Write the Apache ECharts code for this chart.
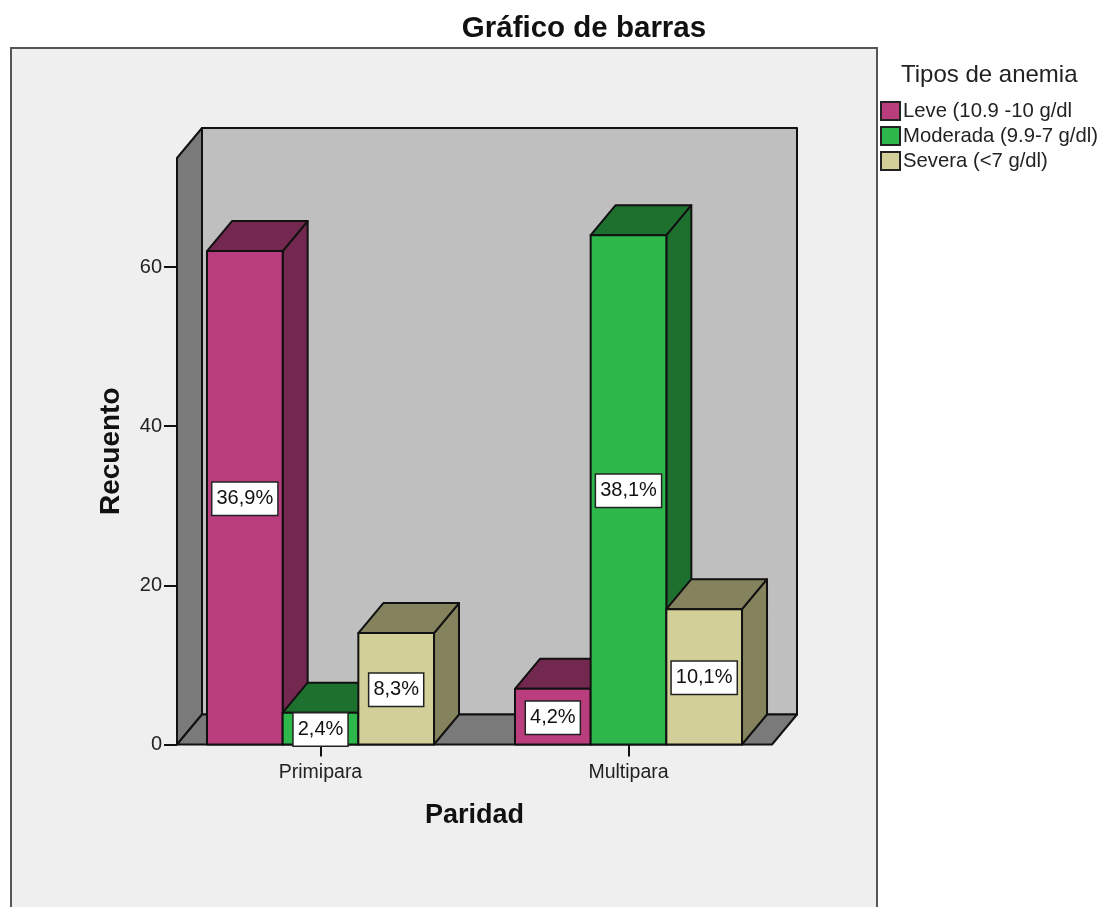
<!DOCTYPE html>
<html>
<head>
<meta charset="utf-8">
<title>Gráfico de barras</title>
<script src="https://cdn.jsdelivr.net/npm/echarts@6/dist/echarts.min.js"></script>
<style>
  html, body { margin: 0; padding: 0; background: #fff; }
  #myChart { width: 1104px; height: 907px; }
</style>
</head>
<body>
<div id="myChart"></div>
<script>
const categories = ['Primipara', 'Multipara'];
const leveValues = [62, 7];
const moderadaValues = [4, 64];
const severaValues = [14, 17];
const levePct = ['36,9%', '4,2%'];
const moderadaPct = ['2,4%', '38,1%'];
const severaPct = ['8,3%', '10,1%'];
const yTicks = [0, 20, 40, 60];
const yMax = 73.7;

const FONT = '"Liberation Sans", Arial, sans-serif';
const DEPTH_X = 25;
const DEPTH_Y = 30;
const BAR_SHARE = 0.2457; // parte de cada categoria que ocupa una barra
const WALL_INSET = 10.5;

function poly(points, fill) {
  return {
    type: 'polygon',
    shape: { points: points },
    style: { fill: fill, stroke: '#111', lineWidth: 2, lineJoin: 'round' },
  };
}

// fondo 3D: pared trasera, pared izquierda y suelo
function renderWalls(params, api) {
  const x0 = params.coordSys.x + WALL_INSET;
  const x1 = params.coordSys.x + params.coordSys.width - WALL_INSET;
  const y0 = api.coord([0, 0])[1];
  const yT = api.coord([0, yMax])[1];
  return {
    type: 'group',
    children: [
      poly([[x0 + DEPTH_X, yT - DEPTH_Y], [x1 + DEPTH_X, yT - DEPTH_Y], [x1 + DEPTH_X, y0 - DEPTH_Y], [x0 + DEPTH_X, y0 - DEPTH_Y]], '#BFBFBF'),
      poly([[x0, yT], [x0 + DEPTH_X, yT - DEPTH_Y], [x0 + DEPTH_X, y0 - DEPTH_Y], [x0, y0]], '#7A7A7A'),
      poly([[x0, y0], [x0 + DEPTH_X, y0 - DEPTH_Y], [x1 + DEPTH_X, y0 - DEPTH_Y], [x1, y0]], '#7A7A7A'),
    ],
  };
}

function makeBarRender(offset, colors, pct) {
  return function (params, api) {
    const cat = api.value(0);
    const top = api.coord([cat, api.value(1)]);
    const base = api.coord([cat, 0]);
    const w = api.size([1, 0])[0] * BAR_SHARE;
    const xl = top[0] + (offset - 0.5) * w;
    const xr = xl + w;
    return {
      type: 'group',
      children: [
        poly([[xr, top[1]], [xr + DEPTH_X, top[1] - DEPTH_Y], [xr + DEPTH_X, base[1] - DEPTH_Y], [xr, base[1]]], colors.dark),
        poly([[xl, top[1]], [xl + DEPTH_X, top[1] - DEPTH_Y], [xr + DEPTH_X, top[1] - DEPTH_Y], [xr, top[1]]], colors.dark),
        poly([[xl, top[1]], [xr, top[1]], [xr, base[1]], [xl, base[1]]], colors.front),
        {
          type: 'text',
          z2: 10,
          style: {
            text: pct[params.dataIndex],
            x: (xl + xr) / 2,
            y: (top[1] + base[1]) / 2 + 1,
            align: 'center',
            verticalAlign: 'middle',
            fontFamily: FONT,
            fontSize: 20,
            lineHeight: 20,
            fill: '#111',
            backgroundColor: '#fff',
            borderColor: '#222',
            borderWidth: 1.5,
            padding: [7, 4, 5, 4],
          },
        },
      ],
    };
  };
}

function barSeries(name, values, offset, colors, pct) {
  return {
    type: 'custom',
    name: name,
    data: values.map((v, i) => [i, v]),
    encode: { x: 0, y: 1 },
    itemStyle: { color: colors.front },
    renderItem: makeBarRender(offset, colors, pct),
  };
}

const leveColors = { front: '#BA3D7E', dark: '#72284F' };
const moderadaColors = { front: '#2EB84B', dark: '#1E702F' };
const severaColors = { front: '#D3CF98', dark: '#85825E' };
const legendNames = ['Leve (10.9 -10 g/dl', 'Moderada (9.9-7 g/dl)', 'Severa (<7 g/dl)'];

const myChart = echarts.init(document.getElementById('myChart'));
myChart.setOption({
  animation: false,
  backgroundColor: '#fff',
  title: [
    { text: 'Gráfico de barras', left: 579, top: 9, textAlign: 'center', textStyle: { fontFamily: FONT, fontSize: 29.5, fontWeight: 'bold', color: '#111' } },
    { text: 'Tipos de anemia', left: 896, top: 58, textStyle: { fontFamily: FONT, fontSize: 24, fontWeight: 'normal', color: '#222' } },
  ],
  graphic: [
    { type: 'rect', z: -1, shape: { x: 11, y: 48, width: 866, height: 900 }, style: { fill: '#EFEFEF', stroke: '#555', lineWidth: 2 } },
  ],
  legend: {
    orient: 'vertical',
    left: 880,
    top: 101,
    itemWidth: 19,
    itemHeight: 18,
    itemGap: 5,
    padding: 0,
    selectedMode: false,
    icon: 'rect',
    itemStyle: { borderColor: '#222', borderWidth: 2 },
    textStyle: { fontFamily: FONT, fontSize: 20.3, lineHeight: 18, color: '#222', padding: [0, 0, 0, -2] },
    data: legendNames,
  },
  grid: { left: 166.5, top: 158, width: 616, height: 586.5 },
  xAxis: {
    type: 'category',
    data: categories,
    name: 'Paridad',
    nameLocation: 'middle',
    nameGap: 58,
    nameTextStyle: { fontFamily: FONT, fontSize: 27, fontWeight: 'bold', color: '#111' },
    axisLine: { show: false },
    axisTick: { show: true, alignWithLabel: true, length: 12, lineStyle: { color: '#111', width: 2 } },
    axisLabel: { fontFamily: FONT, fontSize: 19.5, color: '#222', margin: 18 },
  },
  yAxis: {
    type: 'value',
    min: 0,
    max: yMax,
    offset: -WALL_INSET,
    name: 'Recuento',
    nameLocation: 'middle',
    nameGap: 52,
    nameTextStyle: { fontFamily: FONT, fontSize: 28, fontWeight: 'bold', color: '#111' },
    axisLine: { show: false },
    axisTick: { show: true, length: 13, customValues: yTicks, lineStyle: { color: '#111', width: 2 } },
    axisLabel: { fontFamily: FONT, fontSize: 20, color: '#222', margin: 15, padding: [3, 0, 0, 0], customValues: yTicks },
    splitLine: { show: false },
  },
  series: [
    { type: 'custom', silent: true, data: [[0, 0]], encode: { x: 0, y: 1 }, renderItem: renderWalls },
    barSeries(legendNames[0], leveValues, -1, leveColors, levePct),
    barSeries(legendNames[1], moderadaValues, 0, moderadaColors, moderadaPct),
    barSeries(legendNames[2], severaValues, 1, severaColors, severaPct),
  ],
});
</script>
</body>
</html>
